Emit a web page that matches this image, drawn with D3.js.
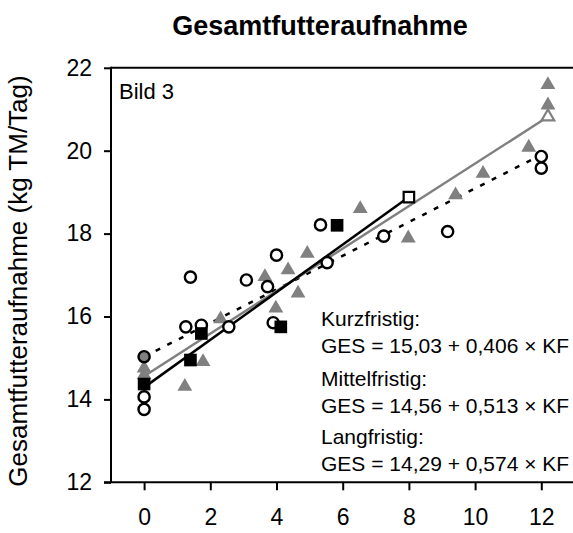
<!DOCTYPE html>
<html><head><meta charset="utf-8">
<script src="https://cdn.jsdelivr.net/npm/d3@7"></script>
<style>body{margin:0;background:#fff}svg{display:block}text{font-family:"Liberation Sans",Arial,sans-serif}</style>
</head><body><svg id="c" width="573" height="533"></svg>
<script>
// ---- data ----
const xTicks = [0, 2, 4, 6, 8, 10, 12];
const yTicks = [12, 14, 16, 18, 20, 22];
// Kurzfristig (open circles)
const kurzX = [0, 0, 1.40, 1.26, 1.73, 2.56, 3.09, 3.73, 4.00, 3.90, 5.33, 5.53, 7.24, 9.17, 12.0, 12.0];
const kurzY = [14.06, 13.76, 16.95, 15.75, 15.79, 15.75, 16.88, 16.72, 17.48, 15.85, 18.21, 17.30, 17.94, 18.05, 19.86, 19.58];
// Mittelfristig (grey triangles)
const mittelX = [0, 0, 1.23, 1.78, 2.31, 3.65, 3.98, 4.35, 4.65, 4.93, 6.53, 7.98, 9.41, 10.24, 11.62, 12.2, 12.2];
const mittelY = [14.75, 14.59, 14.31, 14.91, 15.94, 16.96, 16.20, 17.12, 16.56, 17.52, 18.60, 17.89, 18.93, 19.45, 20.08, 21.10, 21.59];
// Langfristig (black squares)
const langX = [0, 1.40, 1.73, 4.13, 5.83];
const langY = [14.37, 14.95, 15.59, 15.75, 18.20];
// regression lines: intercept, slope, x-range
const regNames = ["Kurzfristig", "Mittelfristig", "Langfristig"];
const regIntercept = [15.03, 14.56, 14.29];
const regSlope = [0.406, 0.513, 0.574];
const regXEnd = [12.0, 12.2, 8.0];
const regLabels = ["GES = 15,03 + 0,406 × KF", "GES = 14,56 + 0,513 × KF", "GES = 14,29 + 0,574 × KF"];

const grey = "#808080";
const svg = d3.select("#c");
const x = d3.scaleLinear().domain([-1, 13]).range([111, 574.4]);
const y = d3.scaleLinear().domain([12, 22]).range([482.3, 67.8]);

// title
svg.append("text").attr("x", 320).attr("y", 35).attr("text-anchor", "middle")
  .attr("font-size", 27).attr("font-weight", "bold").text("Gesamtfutteraufnahme");
// y label
svg.append("text").attr("transform", "translate(27,281) rotate(-90)").attr("text-anchor", "middle")
  .attr("font-size", 26).text("Gesamtfutteraufnahme (kg TM/Tag)");

// frame (top line)
svg.append("line").attr("x1", x(-1)).attr("x2", 573).attr("y1", y(22)).attr("y2", y(22))
  .attr("stroke", "#000").attr("stroke-width", 2);

// axes
const yAxis = d3.axisLeft(y).tickValues(yTicks).tickSize(7).tickPadding(12).tickFormat(d3.format("d"));
const gy = svg.append("g").attr("transform", `translate(${x(-1)},0)`).call(yAxis);
const xAxis = d3.axisBottom(x).tickValues(xTicks).tickSize(8).tickPadding(18).tickFormat(d3.format("d"));
const gx = svg.append("g").attr("transform", `translate(0,${y(12)})`).call(xAxis);
[gx, gy].forEach(g => {
  g.select(".domain").remove();
  g.selectAll(".tick line").attr("stroke", "#000").attr("stroke-width", 2);
  g.selectAll(".tick text").attr("font-size", 23).attr("fill", "#000").attr("font-family", '"Liberation Sans",Arial,sans-serif');
});
svg.append("line").attr("x1", x(-1)).attr("x2", x(-1)).attr("y1", y(22) - 1).attr("y2", y(12))
  .attr("stroke", "#000").attr("stroke-width", 2);
svg.append("line").attr("x1", x(-1) - 7).attr("x2", 573).attr("y1", y(12)).attr("y2", y(12))
  .attr("stroke", "#000").attr("stroke-width", 2);

// Bild 3
svg.append("text").attr("x", 119).attr("y", 99).attr("font-size", 22).text("Bild 3");

// regression lines
const regStroke = ["#000", grey, "#000"];
const regDash = ["5,8", null, null];
regNames.forEach((n, i) => {
  svg.append("line")
    .attr("x1", x(0)).attr("y1", y(regIntercept[i]))
    .attr("x2", x(regXEnd[i])).attr("y2", y(regIntercept[i] + regSlope[i] * regXEnd[i]))
    .attr("stroke", regStroke[i]).attr("stroke-width", 2.5)
    .attr("stroke-dasharray", regDash[i]);
});

// markers
const tri = d3.symbol().type(d3.symbolTriangle).size(95);
const sq = d3.symbol().type(d3.symbolSquare).size(160);
svg.append("g").selectAll("path").data(d3.range(mittelX.length)).join("path")
  .attr("d", tri).attr("transform", i => `translate(${x(mittelX[i])},${y(mittelY[i])})`)
  .attr("fill", grey);
svg.append("g").selectAll("circle").data(d3.range(kurzX.length)).join("circle")
  .attr("cx", i => x(kurzX[i])).attr("cy", i => y(kurzY[i])).attr("r", 5.6)
  .attr("fill", "#fff").attr("stroke", "#000").attr("stroke-width", 2.4);
svg.append("g").selectAll("path").data(d3.range(langX.length)).join("path")
  .attr("d", sq).attr("transform", i => `translate(${x(langX[i])},${y(langY[i])})`)
  .attr("fill", "#000");

// regression start / end markers
svg.append("circle").attr("cx", x(0)).attr("cy", y(regIntercept[0])).attr("r", 5.6)
  .attr("fill", grey).attr("stroke", "#000").attr("stroke-width", 2.4);
svg.append("path").attr("d", d3.symbol().type(d3.symbolTriangle).size(70))
  .attr("transform", `translate(${x(regXEnd[1])},${y(regIntercept[1] + regSlope[1] * regXEnd[1])})`)
  .attr("fill", "#fff").attr("stroke", grey).attr("stroke-width", 2.2);
svg.append("path").attr("d", d3.symbol().type(d3.symbolSquare).size(110))
  .attr("transform", `translate(${x(regXEnd[2])},${y(regIntercept[2] + regSlope[2] * regXEnd[2])})`)
  .attr("fill", "#fff").attr("stroke", "#000").attr("stroke-width", 2.2);

// equations
const eqY = [326, 385.7, 444];
regNames.forEach((n, i) => {
  svg.append("text").attr("x", 321).attr("y", eqY[i]).attr("font-size", 21).text(n + ":");
  svg.append("text").attr("x", 321).attr("y", eqY[i] + 27).attr("font-size", 21).text(regLabels[i]);
});
</script></body></html>
